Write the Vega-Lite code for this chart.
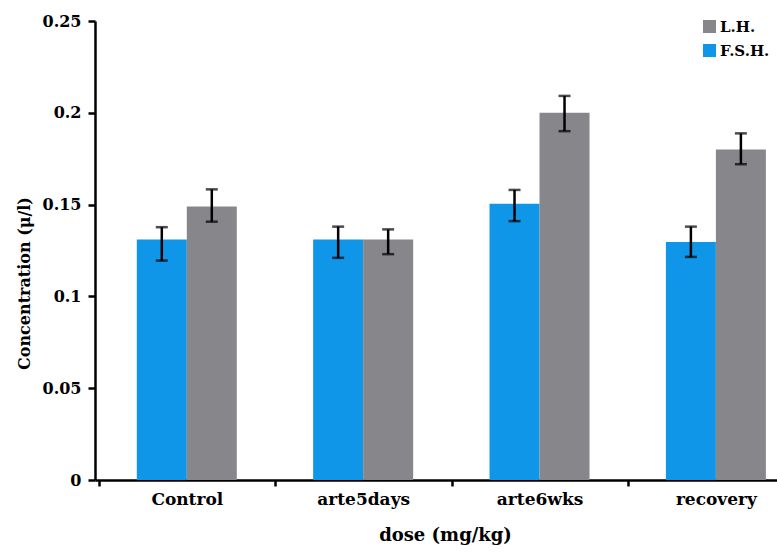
{
  "$schema": "https://vega.github.io/schema/vega-lite/v6.json",
  "width": 682,
  "height": 459,
  "autosize": {"type": "none"},
  "padding": {"left": 95, "top": 21, "right": 0, "bottom": 80},
  "background": "white",
  "config": {
    "view": {"stroke": null},
    "font": "DejaVu Serif",
    "axis": {"grid": false, "domainColor": "black", "domainWidth": 2.5, "tickColor": "black", "tickWidth": 2.5, "labelColor": "black", "titleColor": "black", "labelFont": "DejaVu Serif", "titleFont": "DejaVu Serif", "labelFontWeight": "bold", "titleFontWeight": "bold"}
  },
  "data": {
    "values": [
      {"dose": "Control", "hormone": "F.S.H.", "value": 0.131, "lo": 0.1195, "hi": 0.1377},
      {"dose": "Control", "hormone": "L.H.", "value": 0.149, "lo": 0.1407, "hi": 0.1583},
      {"dose": "arte5days", "hormone": "F.S.H.", "value": 0.131, "lo": 0.121, "hi": 0.138},
      {"dose": "arte5days", "hormone": "L.H.", "value": 0.131, "lo": 0.123, "hi": 0.1365},
      {"dose": "arte6wks", "hormone": "F.S.H.", "value": 0.1505, "lo": 0.141, "hi": 0.158},
      {"dose": "arte6wks", "hormone": "L.H.", "value": 0.2, "lo": 0.19, "hi": 0.2092},
      {"dose": "recovery", "hormone": "F.S.H.", "value": 0.1296, "lo": 0.1215, "hi": 0.138},
      {"dose": "recovery", "hormone": "L.H.", "value": 0.18, "lo": 0.172, "hi": 0.1888}
    ]
  },
  "encoding": {
    "x": {
      "field": "dose", "type": "nominal", "sort": ["Control", "arte5days", "arte6wks", "recovery"],
      "scale": {"paddingInner": 0.433, "paddingOuter": 0.15, "align": 0.79},
      "axis": {"title": "dose (mg/kg)", "labelAngle": 0, "labelFontSize": 17, "titleFontSize": 18, "tickSize": 6, "tickOffset": -88, "labelOffset": 88, "labelPadding": 5, "titlePadding": 19, "titleX": 350, "titleAlign": "center"}
    },
    "xOffset": {"field": "hormone", "type": "nominal", "sort": ["F.S.H.", "L.H."], "scale": {"paddingInner": 0, "paddingOuter": 0}}
  },
  "layer": [
    {
      "mark": {"type": "bar"},
      "encoding": {
        "y": {
          "field": "value", "type": "quantitative",
          "scale": {"domain": [0, 0.25], "nice": false},
          "axis": {"title": "Concentration (μ/l)", "values": [0, 0.05, 0.1, 0.15, 0.2, 0.25], "format": ".2~f", "labelFontSize": 16, "titleFontSize": 16, "tickSize": 7, "labelPadding": 7, "titleAngle": -90, "titleX": -71, "titleY": 262, "titleAlign": "center", "titleBaseline": "middle"}
        },
        "color": {
          "field": "hormone", "type": "nominal",
          "scale": {"domain": ["L.H.", "F.S.H."], "range": ["#87868b", "#0f96e8"]},
          "legend": {"title": null, "orient": "none", "legendX": 607, "legendY": -2, "symbolType": "square", "symbolSize": 169, "symbolStrokeWidth": 0, "symbolOpacity": 1, "labelFont": "DejaVu Serif", "labelFontWeight": "bold", "labelFontSize": 15, "labelColor": "black", "rowPadding": 8, "labelOffset": 3}
        }
      }
    },
    {
      "mark": {"type": "rule", "color": "black", "strokeWidth": 2.5},
      "encoding": {
        "y": {"field": "lo", "type": "quantitative"},
        "y2": {"field": "hi"}
      }
    },
    {
      "mark": {"type": "tick", "color": "black", "thickness": 2.5, "size": 12},
      "encoding": {"y": {"field": "lo", "type": "quantitative"}}
    },
    {
      "mark": {"type": "tick", "color": "black", "thickness": 2.5, "size": 12},
      "encoding": {"y": {"field": "hi", "type": "quantitative"}}
    }
  ]
}
